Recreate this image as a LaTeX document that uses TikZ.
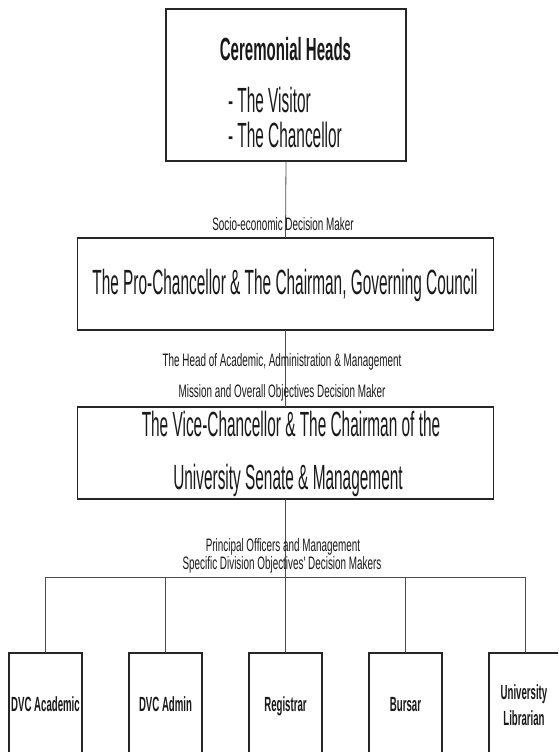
\documentclass[tikz,border=0pt]{standalone}
\usepackage{fontspec}
\setmainfont[FakeStretch=0.47]{Liberation Sans}
\newfontfamily\labelfam[FakeStretch=0.55]{Liberation Sans}
\newfontfamily\tallfam[FakeStretch=0.44]{Liberation Sans}
\begin{document}
\begin{tikzpicture}[x=1pt,y=-1pt,
  box/.style={draw=black!85, line width=1.1pt, fill=none, inner sep=0pt, outer sep=0pt},
  wire/.style={draw=black!70, line width=0.8pt},
  txt/.style={anchor=base, inner sep=0pt, outer sep=0pt, text=black!90},
  bigfont/.style={font=\tallfam\fontsize{35}{42}\selectfont},
  titlefont/.style={font=\fontsize{32}{38}\selectfont\bfseries},
  labelfont/.style={font=\labelfam\fontsize{18}{22}\selectfont},
  leaffont/.style={font=\fontsize{20.5}{24}\selectfont\bfseries}]
  \path[use as bounding box] (0,0) rectangle (558,752);
  \clip (0,0) rectangle (558,752);

  % top level boxes
  \node[box, minimum width=240pt, minimum height=152pt] (cer) at (286,85) {};
  \node[box, minimum width=416pt, minimum height=92pt] (pro) at (285.5,284) {};
  \node[box, minimum width=416pt, minimum height=92pt] (vc) at (285.5,453) {};

  % officer boxes (run past the lower edge)
  \node[box, minimum width=73pt, minimum height=120pt] (dvcac) at (45.5,713) {};
  \node[box, minimum width=73pt, minimum height=120pt] (dvcad) at (165.5,713) {};
  \node[box, minimum width=73pt, minimum height=120pt] (reg) at (285.5,713) {};
  \node[box, minimum width=73pt, minimum height=120pt] (bur) at (405.5,713) {};
  \node[box, minimum width=73pt, minimum height=120pt] (lib) at (525.5,713) {};

  % connectors
  \coordinate (bus) at (285.5,577);
  \draw[wire] (cer.south) -- (pro.north);
  \draw[wire] (pro.south) -- (vc.north);
  \draw[wire] (vc.south) -- (vc.south |- bus);
  \draw[wire] (dvcac.north) -- (dvcac.north |- bus) -- (lib.north |- bus) -- (lib.north);
  \draw[wire] (dvcad.north) -- (dvcad.north |- bus);
  \draw[wire] (reg.north) -- (reg.north |- bus);
  \draw[wire] (bur.north) -- (bur.north |- bus);

  % ceremonial heads
  \node[txt, titlefont] (certitle) at (285.5,60) {Ceremonial Heads};
  \node[txt, bigfont, anchor=base west] (visitor) at (228,112) {- The Visitor};
  \node[txt, bigfont, anchor=base west] (chancellor) at (228,147) {- The Chancellor};

  % connector labels
  \node[txt, labelfont] (socio) at (283,230.5) {Socio-economic Decision Maker};
  \node[txt, labelfont] (head1) at (282,366.5) {The Head of Academic, Administration \& Management};
  \node[txt, labelfont] (head2) at (282,397.5) {Mission and Overall Objectives Decision Maker};
  \node[txt, labelfont] (prin1) at (283,551) {Principal Officers and Management};
  \node[txt, labelfont] (prin2) at (282,569.5) {Specific Division Objectives' Decision Makers};

  % box texts
  \node[txt, bigfont] (protext) at (285,294.5) {The Pro-Chancellor \& The Chairman, Governing Council};
  \node[txt, bigfont] (vctext1) at (291,436) {The Vice-Chancellor \& The Chairman of the};
  \node[txt, bigfont] (vctext2) at (288,489) {University Senate \& Management};

  % officer texts
  \node[txt, leaffont] (t1) at (45.5,711) {DVC Academic};
  \node[txt, leaffont] (t2) at (165.5,711) {DVC Admin};
  \node[txt, leaffont] (t3) at (285.5,711) {Registrar};
  \node[txt, leaffont] (t4) at (405.5,711) {Bursar};
  \node[txt, leaffont] (t5a) at (524,699) {University};
  \node[txt, leaffont] (t5b) at (524,725) {Librarian};
\end{tikzpicture}
\end{document}
